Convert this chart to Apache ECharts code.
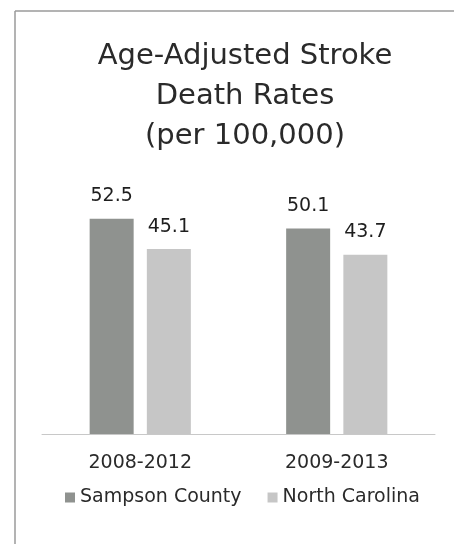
<!DOCTYPE html>
<html>
<head>
<meta charset="utf-8">
<script src="https://cdn.jsdelivr.net/npm/echarts@6/dist/echarts.min.js"></script>
<style>
html,body{margin:0;padding:0;background:#fff;}
#chart{width:454px;height:544px;}
</style>
</head>
<body>
<div id="chart"></div>
<script>
const titleText = 'Age-Adjusted Stroke\nDeath Rates\n(per 100,000)';
const categories = ['2008-2012', '2009-2013'];
const seriesNames = ['Sampson County', 'North Carolina'];
const sampsonValues = [52.5, 50.1];
const ncValues = [45.1, 43.7];

const FONT = '"DejaVu Sans", sans-serif';
const chart = echarts.init(document.getElementById('chart'), null, {renderer: 'canvas'});
chart.setOption({
  animation: false,
  backgroundColor: '#fff',
  graphic: [
    {type: 'line', shape: {x1: 15, y1: 11, x2: 15, y2: 544}, style: {stroke: '#9a9a9a', lineWidth: 1.5}},
    {type: 'line', shape: {x1: 15, y1: 11, x2: 454, y2: 11}, style: {stroke: '#9a9a9a', lineWidth: 1.5}}
  ],
  title: {
    text: titleText,
    left: 240,
    top: 31,
    textAlign: 'center',
    textStyle: {fontFamily: FONT, fontSize: 29, fontWeight: 'normal', color: '#2a2a2a', lineHeight: 40}
  },
  legend: {
    data: seriesNames,
    left: 60,
    top: 483,
    orient: 'horizontal',
    itemWidth: 10,
    itemHeight: 10,
    itemGap: 26,
    icon: 'rect',
    textStyle: {fontFamily: FONT, fontSize: 19, color: '#2a2a2a'}
  },
  grid: {left: 42, right: 19, top: 188, bottom: 110, containLabel: false},
  xAxis: {
    type: 'category',
    data: categories,
    axisLine: {lineStyle: {color: '#c8c8c8', width: 1}},
    axisTick: {show: false},
    axisLabel: {fontFamily: FONT, fontSize: 19, color: '#2a2a2a', margin: 20}
  },
  yAxis: {
    type: 'value',
    min: 0,
    max: 60,
    show: false,
    splitLine: {show: false}
  },
  series: [
    {
      name: seriesNames[0],
      type: 'bar',
      data: sampsonValues,
      barWidth: 44,
      barGap: '30%',
      itemStyle: {color: '#8f928f'},
      label: {show: true, position: 'top', distance: 13, fontFamily: FONT, fontSize: 19, color: '#1e1e1e'}
    },
    {
      name: seriesNames[1],
      type: 'bar',
      data: ncValues,
      barWidth: 44,
      itemStyle: {color: '#c6c6c6'},
      label: {show: true, position: 'top', distance: 13, fontFamily: FONT, fontSize: 19, color: '#1e1e1e'}
    }
  ]
});
</script>
</body>
</html>
